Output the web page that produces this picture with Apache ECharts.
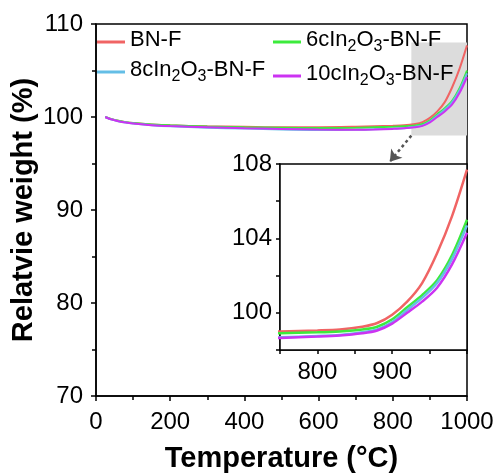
<!DOCTYPE html>
<html>
<head>
<meta charset="utf-8">
<script src="https://cdn.jsdelivr.net/npm/echarts@6/dist/echarts.min.js"></script>
<style>html,body{margin:0;padding:0;background:#fff}#c{width:504px;height:475px}</style>
</head>
<body>
<div id="c"></div>
<script>
const temps = [25, 40, 60, 80, 100, 150, 200, 300, 400, 500, 600, 700, 750, 800, 830, 860, 880, 900, 920, 940, 960, 980, 1000];
const bnf   = [100.0, 99.8, 99.6, 99.45, 99.35, 99.2, 99.1, 99.0, 98.95, 98.9, 98.9, 98.95, 99.0, 99.05, 99.1, 99.25, 99.45, 99.9, 100.6, 101.6, 103.2, 105.2, 107.7];
const c6    = [100.0, 99.8, 99.6, 99.45, 99.35, 99.2, 99.1, 98.98, 98.9, 98.85, 98.82, 98.85, 98.9, 98.95, 99.0, 99.1, 99.25, 99.65, 100.3, 100.95, 101.75, 103.1, 105.0];
const c8    = [100.0, 99.75, 99.55, 99.4, 99.3, 99.12, 99.0, 98.85, 98.75, 98.65, 98.6, 98.62, 98.68, 98.75, 98.8, 98.95, 99.1, 99.5, 100.15, 100.8, 101.6, 102.9, 104.7];
const c10   = [100.0, 99.75, 99.55, 99.4, 99.3, 99.12, 99.02, 98.9, 98.8, 98.72, 98.65, 98.62, 98.65, 98.72, 98.78, 98.9, 99.05, 99.42, 100.0, 100.6, 101.35, 102.6, 104.3];
const seriesNames = ['BN-F', '6cIn2O3-BN-F', '8cIn2O3-BN-F', '10cIn2O3-BN-F'];
const seriesValues = [bnf, c6, c8, c10];
const colors = ['#F06464', '#3CEB3C', '#64BEE6', '#CC33F2'];
const mainXTicks = [0, 200, 400, 600, 800, 1000];
const mainYTicks = [70, 80, 90, 100, 110];
const insetXLabels = [800, 900];
const insetYLabels = [100, 104, 108];
const zoomBox = [[850, 98], [1000, 108]];
const arrowFromTo = [[850, 98], [792, 95.2]];

const FONT = "'Liberation Sans', Arial, sans-serif";
const pairs = arr => temps.map((t, i) => [t, arr[i]]);

function richName(name) {
  return name.replace(/In2O3/, 'In{s|2}O{s|3}').replace(/^([^{]*)/, '{n|$1}').replace(/\}([^{}]+)\{/g, '}{n|$1}{').replace(/\}([^{}]+)$/, '}{n|$1}');
}
const legendText = {
  fontSize: 22, color: '#000', fontFamily: FONT,
  rich: {
    n: { fontSize: 22, fontFamily: FONT, color: '#000', lineHeight: 26, verticalAlign: 'top', padding: [0, 0, 0, 0] },
    s: { fontSize: 16, fontFamily: FONT, color: '#000', lineHeight: 18, verticalAlign: 'top', padding: [10, 0, 0, 0] }
  }
};

const mainSeries = seriesValues.map((v, i) => ({
  name: seriesNames[i], type: 'line', xAxisIndex: 0, yAxisIndex: 0,
  data: pairs(v), smooth: 0.3, symbol: 'none', z: 3,
  lineStyle: { color: colors[i], width: 2 }, itemStyle: { color: colors[i] }
}));
const insetSeries = seriesValues.map((v, i) => ({
  name: seriesNames[i], type: 'line', xAxisIndex: 1, yAxisIndex: 1,
  data: pairs(v), smooth: 0.3, symbol: 'none', z: 3,
  lineStyle: { color: colors[i], width: 2.5 }, itemStyle: { color: colors[i] }
}));

const chart = echarts.init(document.getElementById('c'), null, { renderer: 'canvas' });
chart.setOption({
  animation: false,
  backgroundColor: '#fff',
  legend: [
    { data: [seriesNames[0], seriesNames[2]], orient: 'vertical', left: 97, top: 29, padding: 0, itemGap: 8,
      icon: 'rect', itemWidth: 28, itemHeight: 3, textStyle: legendText, formatter: richName, selectedMode: false },
    { data: [seriesNames[1], seriesNames[3]], orient: 'vertical', left: 273, top: 29, padding: 0, itemGap: 8,
      icon: 'rect', itemWidth: 28, itemHeight: 3, textStyle: legendText, formatter: richName, selectedMode: false }
  ],
  grid: [
    { left: 96, right: 37, top: 24, bottom: 79, show: true, borderColor: '#000', borderWidth: 1.5,
      backgroundColor: 'transparent', containLabel: false, outerBoundsMode: 'none' },
    { left: 280, right: 37, top: 164, bottom: 125, show: true, borderColor: '#000', borderWidth: 1.5,
      backgroundColor: '#fff', z: 2, containLabel: false, outerBoundsMode: 'none' }
  ],
  xAxis: [
    { type: 'value', gridIndex: 0, min: mainXTicks[0], max: mainXTicks[mainXTicks.length - 1], interval: 200,
      name: 'Temperature (°C)', nameLocation: 'middle', nameGap: 48, nameMoveOverlap: false,
      nameTextStyle: { fontSize: 29, fontWeight: 'bold', color: '#000', fontFamily: FONT },
      axisLine: { show: true, lineStyle: { color: '#000', width: 1.5 } },
      axisTick: { show: true, inside: false, length: 5, lineStyle: { color: '#000', width: 1.5 } },
      minorTick: { show: true, splitNumber: 2, length: 4, lineStyle: { color: '#000', width: 1.5 } },
      axisLabel: { fontSize: 24, color: '#000', fontFamily: FONT, margin: 14, formatter: v => String(v) },
      splitLine: { show: false } },
    { type: 'value', gridIndex: 1, min: 750, max: 1000, interval: 50,
      axisLine: { show: true, lineStyle: { color: '#000', width: 1.5 } },
      axisTick: { show: true, inside: false, length: 4, lineStyle: { color: '#000', width: 1.5 } },
      axisLabel: { fontSize: 24, color: '#000', fontFamily: FONT, margin: 10,
        formatter: v => insetXLabels.includes(v) ? String(v) : '' },
      splitLine: { show: false } }
  ],
  yAxis: [
    { type: 'value', gridIndex: 0, min: mainYTicks[0], max: mainYTicks[mainYTicks.length - 1], interval: 10,
      name: 'Relatvie weight (%)', nameLocation: 'middle', nameGap: 58, nameMoveOverlap: false,
      nameTextStyle: { fontSize: 29, fontWeight: 'bold', color: '#000', fontFamily: FONT },
      axisLine: { show: true, lineStyle: { color: '#000', width: 1.5 } },
      axisTick: { show: true, inside: false, length: 5, lineStyle: { color: '#000', width: 1.5 } },
      minorTick: { show: true, splitNumber: 2, length: 4, lineStyle: { color: '#000', width: 1.5 } },
      axisLabel: { fontSize: 24, color: '#000', fontFamily: FONT, margin: 13 },
      splitLine: { show: false } },
    { type: 'value', gridIndex: 1, min: 98, max: 108, interval: 2,
      axisLine: { show: true, lineStyle: { color: '#000', width: 1.5 } },
      axisTick: { show: true, inside: false, length: 4, lineStyle: { color: '#000', width: 1.5 } },
      axisLabel: { fontSize: 24, color: '#000', fontFamily: FONT, margin: 8,
        formatter: v => insetYLabels.includes(v) ? String(v) : '' },
      splitLine: { show: false } }
  ],
  series: [
    { name: 'zoom', type: 'line', xAxisIndex: 0, yAxisIndex: 0, data: [], z: 1, silent: true,
      markArea: { silent: true, itemStyle: { color: '#dcdcdc' }, label: { show: false },
        data: [[{ coord: zoomBox[0] }, { coord: zoomBox[1] }]] },
      markLine: { silent: true, symbol: ['none', 'arrow'], symbolSize: 11, label: { show: false },
        lineStyle: { color: '#555', width: 2.5, type: [3, 3] },
        data: [[{ coord: arrowFromTo[0] }, { coord: arrowFromTo[1] }]] } },
    ...mainSeries,
    ...insetSeries
  ]
});
</script>
</body>
</html>
